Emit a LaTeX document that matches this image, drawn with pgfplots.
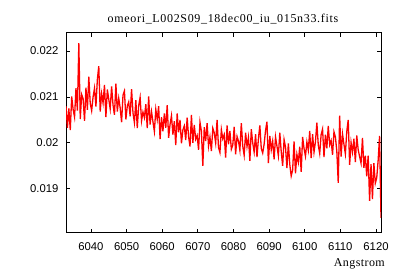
\documentclass[border=0pt]{standalone}
\usepackage{fontspec}
\setmainfont{Liberation Serif}
\newfontfamily\tickfont{Liberation Sans}
\newfontfamily\titlefont[LetterSpace=5.6]{Liberation Serif}
\newfontfamily\labelfont[LetterSpace=3.5]{Liberation Serif}
\usepackage{pgfplots}
\pgfplotsset{compat=1.18}
\begin{document}
\begin{tikzpicture}[x=1bp,y=1bp]
\useasboundingbox (0,0) rectangle (400,280);
\begin{axis}[
  at={(66bp,47bp)}, anchor=south west,
  scale only axis, width=315bp, height=200bp,
  xmin=6033, xmax=6121.4, ymin=0.01804, ymax=0.02239,
  axis line style={line width=1bp},
  tick style={line width=0.8bp, black},
  major tick length=4bp,
  tick align=inside,
  xtick={6040,6050,6060,6070,6080,6090,6100,6110,6120},
  xticklabels={6040,6050,6060,6070,6080,6090,6100,6110,6120},
  ytick={0.019,0.02,0.021,0.022},
  yticklabels={0.019,0.02,0.021,0.022},
  ticklabel style={font=\tickfont\fontsize{11.3bp}{13bp}\selectfont},
  xticklabel style={yshift=-6bp},
  yticklabel style={xshift=-4bp},
  xtick pos=both, ytick pos=both,
  scaled ticks=false,
]
\addplot[red, line width=1.3bp] table {
x y
6033.0 0.02080
6033.4 0.02033
6033.8 0.02075
6034.2 0.02028
6034.6 0.02101
6035.0 0.02073
6035.4 0.02056
6035.8 0.02119
6036.2 0.02070
6036.6 0.02217
6037.0 0.02052
6037.4 0.02105
6037.8 0.02096
6038.2 0.02048
6038.6 0.02120
6039.0 0.02072
6039.4 0.02144
6039.8 0.02086
6040.2 0.02070
6040.6 0.02100
6041.0 0.02119
6041.4 0.02079
6041.8 0.02138
6042.2 0.02167
6042.6 0.02068
6043.0 0.02107
6043.4 0.02087
6043.8 0.02126
6044.2 0.02056
6044.6 0.02116
6045.0 0.02095
6045.4 0.02074
6045.8 0.02123
6046.2 0.02082
6046.6 0.02061
6047.0 0.02129
6047.4 0.02068
6047.8 0.02097
6048.2 0.02076
6048.6 0.02045
6049.0 0.02104
6049.4 0.02113
6049.8 0.02051
6050.2 0.02080
6050.6 0.02089
6051.0 0.02058
6051.4 0.02117
6051.8 0.02065
6052.2 0.02044
6052.6 0.02093
6053.0 0.02032
6053.4 0.02081
6053.8 0.02099
6054.2 0.02048
6054.6 0.02067
6055.0 0.02055
6055.4 0.02084
6055.8 0.02032
6056.2 0.02101
6056.6 0.02040
6057.0 0.02068
6057.4 0.02046
6057.8 0.02025
6058.2 0.02073
6058.6 0.02051
6059.0 0.02080
6059.4 0.02008
6059.8 0.02056
6060.2 0.02025
6060.6 0.02064
6061.0 0.02033
6061.4 0.02082
6061.8 0.02011
6062.2 0.02040
6062.6 0.02059
6063.0 0.02018
6063.4 0.02047
6063.8 0.01995
6064.2 0.02064
6064.6 0.02023
6065.0 0.02050
6065.4 0.01999
6065.8 0.02028
6066.2 0.02037
6066.6 0.02006
6067.0 0.02055
6067.4 0.02014
6067.8 0.01992
6068.2 0.02061
6068.6 0.02000
6069.0 0.02039
6069.4 0.02008
6069.8 0.02016
6070.2 0.01985
6070.6 0.02045
6071.0 0.02025
6071.4 0.01950
6071.8 0.02034
6072.2 0.02004
6072.6 0.02043
6073.0 0.01993
6073.4 0.02013
6073.8 0.01982
6074.2 0.02032
6074.6 0.02022
6075.0 0.02000
6075.4 0.02050
6075.8 0.01990
6076.2 0.01979
6076.6 0.02029
6077.0 0.02009
6077.4 0.02018
6077.8 0.01968
6078.2 0.02038
6078.6 0.01997
6079.0 0.02026
6079.4 0.01986
6079.8 0.01995
6080.2 0.02035
6080.6 0.01975
6081.0 0.02014
6081.4 0.02004
6081.8 0.01984
6082.2 0.02043
6082.6 0.01993
6083.0 0.01973
6083.4 0.02022
6083.8 0.01992
6084.2 0.02012
6084.6 0.01961
6085.0 0.02030
6085.4 0.02000
6085.8 0.01980
6086.2 0.02019
6086.6 0.01969
6087.0 0.02009
6087.4 0.02038
6087.8 0.01988
6088.2 0.01978
6088.6 0.01997
6089.0 0.02027
6089.4 0.02046
6089.8 0.01956
6090.2 0.02015
6090.6 0.01985
6091.0 0.02004
6091.4 0.01964
6091.8 0.02013
6092.2 0.01993
6092.6 0.01972
6093.0 0.02022
6093.4 0.01981
6093.8 0.01950
6094.2 0.02007
6094.6 0.01991
6095.0 0.01945
6095.4 0.01999
6095.8 0.01953
6096.2 0.01928
6096.6 0.01941
6097.0 0.02003
6097.4 0.01934
6097.8 0.01975
6098.2 0.01958
6098.6 0.01992
6099.0 0.01937
6099.4 0.02013
6099.8 0.01988
6100.2 0.01971
6100.6 0.02002
6101.0 0.01984
6101.4 0.02026
6101.8 0.01967
6102.2 0.02019
6102.6 0.01980
6103.0 0.02002
6103.4 0.02044
6103.8 0.01995
6104.2 0.01977
6104.6 0.02018
6105.0 0.02030
6105.4 0.01969
6105.8 0.02018
6106.2 0.01988
6106.6 0.02037
6107.0 0.01996
6107.4 0.02005
6107.8 0.01974
6108.2 0.02024
6108.6 0.02013
6109.0 0.01982
6109.4 0.01913
6109.8 0.02059
6110.2 0.01970
6110.6 0.02019
6111.0 0.01997
6111.4 0.01976
6111.8 0.02025
6112.2 0.02050
6112.6 0.01952
6113.0 0.02001
6113.4 0.01980
6113.8 0.02009
6114.2 0.01958
6114.6 0.02016
6115.0 0.01985
6115.4 0.01970
6115.8 0.01956
6116.2 0.02011
6116.6 0.01946
6117.0 0.01972
6117.4 0.01927
6117.8 0.01972
6118.2 0.01874
6118.6 0.01954
6119.0 0.01878
6119.4 0.01956
6119.8 0.01912
6120.2 0.01924
6120.6 0.01962
6121.0 0.02015
6121.4 0.01837
};
\end{axis}
\node[anchor=base, font=\titlefont\fontsize{12bp}{14bp}\selectfont] at (223,258) {omeori\_L002S09\_18dec00\_iu\_015n33.fits};
\node[anchor=base east, inner sep=0pt, font=\labelfont\fontsize{12bp}{14bp}\selectfont] at (385,14) {Angstrom};
\end{tikzpicture}
\end{document}
